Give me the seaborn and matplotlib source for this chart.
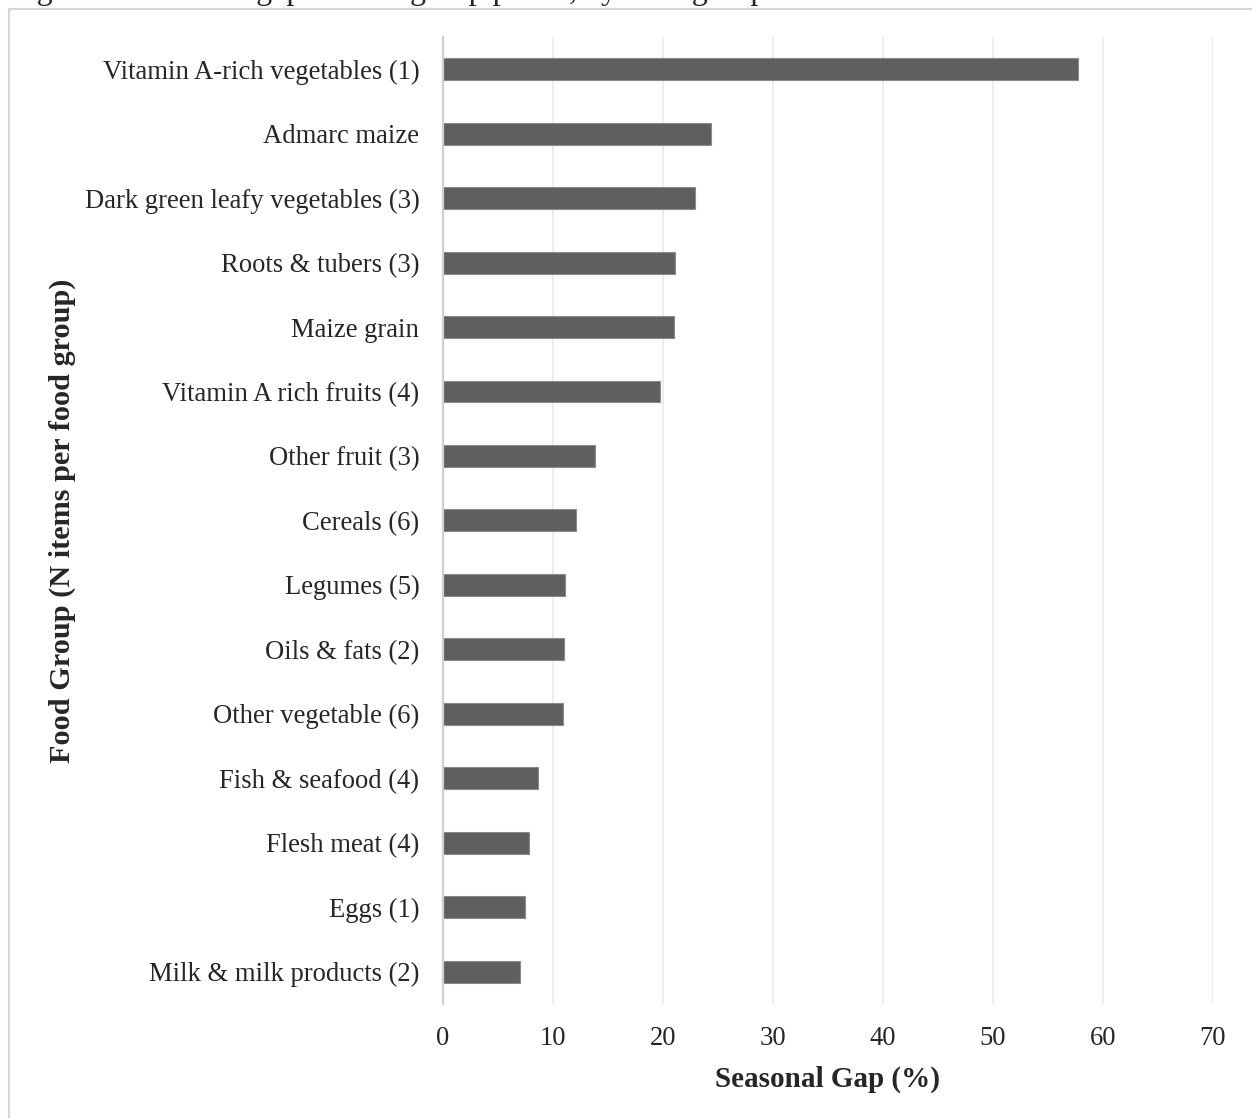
import matplotlib
matplotlib.use("Agg")
import matplotlib.pyplot as plt
import seaborn as sns
import pandas as pd
from matplotlib.lines import Line2D


# values (top to bottom)
food_groups = [
    "Vitamin A-rich vegetables (1)",
    "Admarc maize",
    "Dark green leafy vegetables (3)",
    "Roots & tubers (3)",
    "Maize grain",
    "Vitamin A rich fruits (4)",
    "Other fruit (3)",
    "Cereals (6)",
    "Legumes (5)",
    "Oils & fats (2)",
    "Other vegetable (6)",
    "Fish & seafood (4)",
    "Flesh meat (4)",
    "Eggs (1)",
    "Milk & milk products (2)",
]
seasonal_gap = [57.7, 24.4, 22.9, 21.1, 21.0, 19.7, 13.8, 12.1, 11.1, 11.0,
                10.9, 8.6, 7.85, 7.45, 7.0]
x_ticks = [0, 10, 20, 30, 40, 50, 60, 70]

title = "Figure 4: Seasonal gap in food group prices, by food group"

df = pd.DataFrame({"group": food_groups, "gap": seasonal_gap})


sns.set_theme(style="whitegrid")
plt.rcParams["font.family"] = ["Liberation Serif", "DejaVu Serif"]

fig = plt.figure(figsize=(12.52, 11.18), dpi=100)
ax = fig.add_axes([0.3538, 0.102, 0.615, 0.865])

sns.barplot(data=df, x="gap", y="group", orient="h", color="#5f5f5f",
            saturation=1, width=0.34, edgecolor="#8a8a8a", linewidth=0.8, ax=ax)

ax.set_xlim(0, 70)
ax.set_xticks(x_ticks)
ax.set_xticklabels([str(t) for t in x_ticks], fontsize=19.2)
ax.tick_params(axis="y", labelsize=19.2, length=0, pad=17)
ax.tick_params(axis="x", length=0, pad=16)

ax.grid(axis="x", color="#ececec", linewidth=1.3)
ax.grid(axis="y", visible=False)
ax.set_facecolor("white")
for side in ["top", "right", "bottom"]:
    ax.spines[side].set_visible(False)
ax.spines["left"].set_color("#d0d0d0")
ax.spines["left"].set_linewidth(1.6)

ax.set_xlabel("Seasonal Gap (%)", fontsize=21, fontweight="bold", labelpad=10.5)
ax.set_ylabel("Food Group (N items per food group)", fontsize=21.8,
              fontweight="bold", labelpad=6.5)

# outer chart frame (only top and left edges fall inside the image)
fx = 8.5 / 1252
fy = 1 - 8.5 / 1118
fig.add_artist(Line2D([fx, fx], [0, fy], transform=fig.transFigure,
                      color="#d6d6d6", linewidth=1.6))
fig.add_artist(Line2D([fx, 1], [fy, fy], transform=fig.transFigure,
                      color="#d6d6d6", linewidth=1.6))

# caption sits mostly above the crop, only descenders show
fig.text(9.5 / 1252, 1 + 1 / 1118, title, fontsize=23, ha="left", va="baseline")

fig.savefig("out.png", dpi=100)
